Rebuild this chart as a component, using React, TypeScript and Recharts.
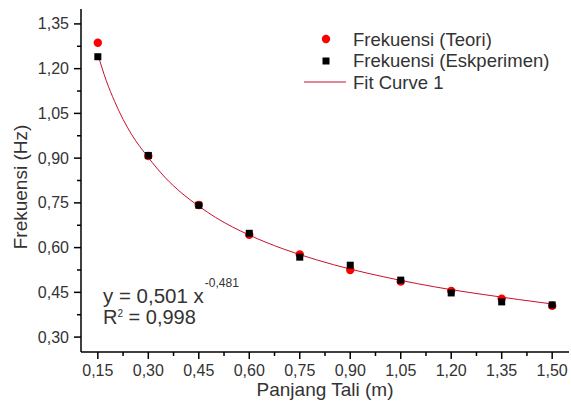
import React from 'react';
import { ComposedChart, XAxis, YAxis, Scatter, Line } from 'recharts';

// ---- data ----
const panjangTali = [0.15, 0.3, 0.45, 0.6, 0.75, 0.9, 1.05, 1.2, 1.35, 1.5];
const frekTeori = [1.287, 0.907, 0.743, 0.643, 0.577, 0.525, 0.486, 0.455, 0.429, 0.405];
const frekEksperimen = [1.240, 0.909, 0.742, 0.648, 0.568, 0.541, 0.491, 0.448, 0.418, 0.408];

const fitX = [0.15, 0.175, 0.2, 0.225, 0.25, 0.3, 0.35, 0.4, 0.45, 0.5, 0.6, 0.7, 0.8, 0.9, 1.0, 1.1, 1.2, 1.3, 1.4, 1.5];
const fitY = [1.248, 1.160, 1.090, 1.030, 0.980, 0.902, 0.835, 0.782, 0.739, 0.701, 0.642, 0.596, 0.559, 0.528, 0.502, 0.479, 0.459, 0.442, 0.426, 0.411];

const xMajorTicks = [0.15, 0.3, 0.45, 0.6, 0.75, 0.9, 1.05, 1.2, 1.35, 1.5];
const xMinorTicks = [0.225, 0.375, 0.525, 0.675, 0.825, 0.975, 1.125, 1.275, 1.425];
const yMajorTicks = [0.3, 0.45, 0.6, 0.75, 0.9, 1.05, 1.2, 1.35];
const yMinorTicks = [0.375, 0.525, 0.675, 0.825, 0.975, 1.125, 1.275];
const topMajorTicks = [0.147, 0.278, 0.41, 0.542, 0.673, 0.805, 0.937, 1.068, 1.2, 1.332, 1.464];
const topMinorTicks = [0.212, 0.344, 0.476, 0.607, 0.739, 0.871, 1.002, 1.134, 1.266, 1.398, 1.53];
const rightMajorTicks = [1.288, 1.134, 0.98, 0.826, 0.671, 0.517, 0.363];
const rightMinorTicks = [1.366, 1.211, 1.057, 0.903, 0.749, 0.594, 0.44, 0.286];

const xDomain = [0.1, 1.55];
const yDomain = [0.25, 1.4];

const xLabel = 'Panjang Tali (m)';
const yLabel = 'Frekuensi (Hz)';
const legendLabels = ['Frekuensi (Teori)', 'Frekuensi (Eskperimen)', 'Fit Curve 1'];
const eqMain = 'y = 0,501 x';
const eqExp = '-0,481';
const r2Label = ' = 0,998';

const teoriData = panjangTali.map((x, i) => ({ x, y: frekTeori[i] }));
const eksData = panjangTali.map((x, i) => ({ x, y: frekEksperimen[i] }));
const fitData = fitX.map((x, i) => ({ x, y: fitY[i] }));

const FONT = '"Liberation Sans", Arial, sans-serif';
const TXT = '#333';
const FIT = '#c8102e';
const fmt = (v: number) => v.toFixed(2).replace('.', ',');
const isMajor = (v: number, arr: number[]) => arr.some((a) => Math.abs(a - v) < 1e-6);

const BottomTick = (p: any) => {
  const major = isMajor(p.payload.value, xMajorTicks);
  return (
    <g>
      <line x1={p.x} x2={p.x} y1={p.y} y2={p.y + (major ? 7 : 4)} stroke="#000" strokeWidth={1.5} />
      {major && (
        <text x={p.x} y={p.y + 23.5} textAnchor="middle" fontSize={16} fontFamily={FONT} fill={TXT}>
          {fmt(p.payload.value)}
        </text>
      )}
    </g>
  );
};

const LeftTick = (p: any) => {
  const major = isMajor(p.payload.value, yMajorTicks);
  return (
    <g>
      <line x1={p.x} x2={p.x - (major ? 7 : 4)} y1={p.y} y2={p.y} stroke="#000" strokeWidth={1.5} />
      {major && (
        <text x={p.x - 12} y={p.y + 5.5} textAnchor="end" fontSize={16} fontFamily={FONT} fill={TXT}>
          {fmt(p.payload.value)}
        </text>
      )}
    </g>
  );
};

const TopTick = (p: any) => {
  const major = isMajor(p.payload.value, topMajorTicks);
  return <line x1={p.x} x2={p.x} y1={p.y} y2={p.y + (major ? 6 : 3)} stroke="#000" strokeWidth={1.5} />;
};

const RightTick = (p: any) => {
  const major = isMajor(p.payload.value, rightMajorTicks);
  return <line x1={p.x} x2={p.x - (major ? 6 : 3)} y1={p.y} y2={p.y} stroke="#000" strokeWidth={1.5} />;
};

const RedDot = (p: any) => <circle cx={p.cx} cy={p.cy} r={4.2} fill="#ff0000" />;
const BlackSquare = (p: any) => <rect x={p.cx - 3.5} y={p.cy - 3.5} width={7} height={7} fill="#000" />;

const axisLine = { stroke: '#000', strokeWidth: 1.5 };

export default function App() {
  return (
    <div style={{ position: 'absolute', left: 0, top: 0, width: 571, height: 410, background: '#fff' }}>
      <ComposedChart width={571} height={410} margin={{ top: 9, right: 2, bottom: 0, left: 0 }}>
        <XAxis
          xAxisId="b"
          type="number"
          dataKey="x"
          domain={xDomain}
          allowDataOverflow
          ticks={[...xMajorTicks, ...xMinorTicks].sort((a, b) => a - b)}
          interval={0}
          tick={<BottomTick />}
          tickLine={false}
          tickSize={0}
          tickMargin={0}
          axisLine={axisLine}
          height={58}
        />
        <XAxis
          xAxisId="t"
          orientation="top"
          type="number"
          dataKey="x"
          domain={xDomain}
          allowDataOverflow
          ticks={[...topMajorTicks, ...topMinorTicks].sort((a, b) => a - b)}
          interval={0}
          tick={<TopTick />}
          tickLine={false}
          tickSize={0}
          tickMargin={0}
          axisLine={axisLine}
          height={0}
        />
        <YAxis
          yAxisId="l"
          type="number"
          dataKey="y"
          domain={yDomain}
          allowDataOverflow
          ticks={[...yMajorTicks, ...yMinorTicks].sort((a, b) => a - b)}
          interval={0}
          tick={<LeftTick />}
          tickLine={false}
          tickSize={0}
          tickMargin={0}
          axisLine={axisLine}
          width={81}
        />
        <YAxis
          yAxisId="r"
          orientation="right"
          type="number"
          dataKey="y"
          domain={yDomain}
          allowDataOverflow
          ticks={[...rightMajorTicks, ...rightMinorTicks].sort((a, b) => a - b)}
          interval={0}
          tick={<RightTick />}
          tickLine={false}
          tickSize={0}
          tickMargin={0}
          axisLine={axisLine}
          width={0}
        />
        <Scatter data={teoriData} xAxisId="b" yAxisId="l" dataKey="y" shape={RedDot} isAnimationActive={false} />
        <Scatter data={eksData} xAxisId="b" yAxisId="l" dataKey="y" shape={BlackSquare} isAnimationActive={false} />
        <Line
          data={fitData}
          xAxisId="b"
          yAxisId="l"
          dataKey="y"
          type="monotone"
          dot={false}
          stroke={FIT}
          strokeWidth={1}
          isAnimationActive={false}
        />
      </ComposedChart>
      <svg
        width={571}
        height={410}
        style={{ position: 'absolute', left: 0, top: 0, pointerEvents: 'none' }}
        fontFamily={FONT}
      >
        <text x={325} y={396} textAnchor="middle" fontSize={19} fill={TXT}>{xLabel}</text>
        <text x={27} y={187} textAnchor="middle" fontSize={19} fill={TXT} transform="rotate(-90 27 187)">{yLabel}</text>
        <circle cx={326} cy={39} r={4.2} fill="#ff0000" />
        <text x={353} y={45.5} fontSize={18.5} fill={TXT}>{legendLabels[0]}</text>
        <rect x={322.5} y={57.5} width={7} height={7} fill="#000" />
        <text x={353} y={67} fontSize={18.5} fill={TXT}>{legendLabels[1]}</text>
        <line x1={304} x2={346} y1={82} y2={82} stroke={FIT} strokeWidth={1} />
        <text x={353} y={88.5} fontSize={18.5} fill={TXT}>{legendLabels[2]}</text>
        <text x={103} y={303} fontSize={20.5} fill={TXT}>
          {eqMain}
          <tspan fontSize={12} dx={1} dy={-16}>{eqExp}</tspan>
        </text>
        <text x={103} y={324} fontSize={20} fill={TXT}>
          R
          <tspan fontSize={10} dy={-7}>2</tspan>
          <tspan dy={7}>{r2Label}</tspan>
        </text>
      </svg>
    </div>
  );
}
